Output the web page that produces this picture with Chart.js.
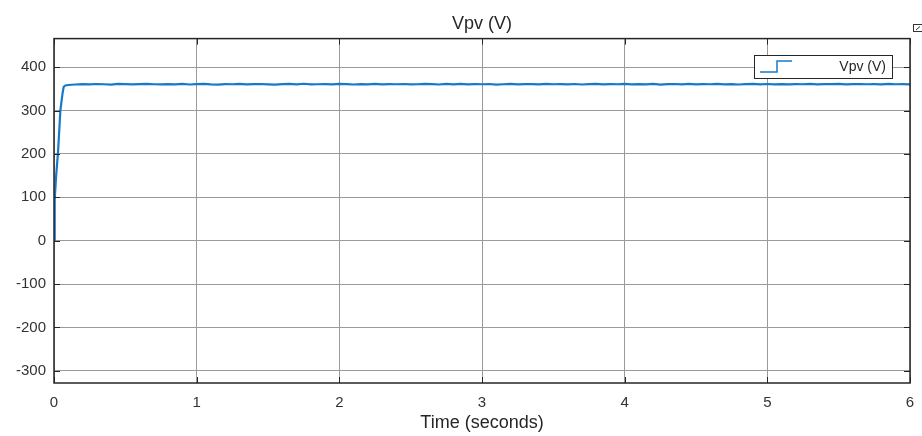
<!DOCTYPE html>
<html>
<head>
<meta charset="utf-8">
<title>Vpv (V)</title>
<script src="https://cdn.jsdelivr.net/npm/chart.js@4/dist/chart.umd.min.js"></script>
<style>
  html, body { margin: 0; padding: 0; background: #fff; }
  #wrap { width: 922px; height: 436px; position: relative; }
</style>
</head>
<body>
<div id="wrap"><canvas id="vpvChart"></canvas></div>
<script>
// start-up of the PV voltage
const riseTime = [0, 0.005, 0.015, 0.028, 0.045, 0.06, 0.068, 0.08, 0.1];
const riseVpv = [0, 95, 150, 203, 302, 340, 355, 358, 359];

// steady part, one sample every 0.05 s from 0.15 s to 6 s
const steadyStart = 0.15;
const steadyStep = 0.05;
const steadyVpv = [
  360.2, 361.0, 360.5, 361.3, 360.8, 360.1, 361.5, 360.9, 360.4, 361.2,
  361.8, 360.7, 360.3, 361.1, 360.6, 361.4, 360.2, 360.9, 361.6, 360.5,
  360.0, 361.2, 360.8, 361.7, 360.4, 360.9, 361.3, 360.6, 360.1, 361.0,
  361.5, 360.7, 361.9, 360.3, 360.8, 361.2, 360.5, 361.4, 360.9, 360.2,
  361.1, 360.6, 361.6, 360.4, 361.0, 360.8, 361.3, 360.3, 360.7, 361.5,
  360.9, 360.2, 361.4, 360.6, 361.8, 360.5, 361.0, 360.7, 361.3, 360.1,
  360.8, 361.6, 360.4, 361.2, 360.9, 360.3, 361.5, 360.7, 361.1, 360.6,
  361.3, 360.2, 360.9, 361.7, 360.5, 361.0, 360.8, 361.4, 360.3, 361.2,
  360.7, 361.5, 360.1, 360.9, 361.3, 360.6, 361.8, 360.4, 361.0, 360.8,
  361.4, 360.5, 361.1, 360.2, 360.9, 361.6, 360.7, 361.3, 360.4, 361.0,
  360.6, 361.2, 360.8, 361.5, 360.3, 361.0, 360.9, 361.7, 360.5, 361.1,
  361.3, 360.7, 361.0, 360.4, 361.4, 360.8, 361.2, 360.6
];

const xTicks = [0, 1, 2, 3, 4, 5, 6];
const yTicks = [-300, -200, -100, 0, 100, 200, 300, 400];

const lineColor = "#1779c9";
const fontFamily = "'Liberation Sans', Arial, sans-serif";

const points = riseTime.map((t, i) => ({ x: t, y: riseVpv[i] }));
steadyVpv.forEach((v, i) => {
  points.push({ x: +(steadyStart + i * steadyStep).toFixed(2), y: v });
});

// box round the axes, inner tick marks, legend and the little corner icon
const framePlugin = {
  id: "frame",
  afterDraw(chart) {
    const { ctx, chartArea: a, scales } = chart;
    ctx.save();

    ctx.strokeStyle = "#262626";
    ctx.lineWidth = 1;
    ctx.beginPath();
    yTicks.forEach(v => {
      const y = Math.round(scales.y.getPixelForValue(v)) + 0.5;
      ctx.moveTo(a.left, y); ctx.lineTo(a.left + 6, y);
      ctx.moveTo(a.right, y); ctx.lineTo(a.right - 6, y);
    });
    xTicks.forEach(v => {
      const x = Math.round(scales.x.getPixelForValue(v)) + 0.5;
      ctx.moveTo(x, a.bottom); ctx.lineTo(x, a.bottom - 6);
      ctx.moveTo(x, a.top); ctx.lineTo(x, a.top + 6);
    });
    ctx.stroke();

    ctx.lineWidth = 1.5;
    ctx.strokeRect(a.left, a.top, a.right - a.left, a.bottom - a.top);

    // legend
    const lx = 754, ly = 55, lw = 138, lh = 23;
    ctx.fillStyle = "#fff";
    ctx.fillRect(lx, ly, lw, lh);
    ctx.lineWidth = 1;
    ctx.strokeStyle = "#262626";
    ctx.strokeRect(lx + 0.5, ly + 0.5, lw, lh);
    ctx.strokeStyle = lineColor;
    ctx.lineWidth = 1.5;
    ctx.beginPath();
    ctx.moveTo(760, 72); ctx.lineTo(777, 72); ctx.lineTo(777, 61); ctx.lineTo(792, 61);
    ctx.stroke();
    ctx.fillStyle = "#262626";
    ctx.font = "14px " + fontFamily;
    ctx.textAlign = "right";
    ctx.textBaseline = "middle";
    ctx.fillText("Vpv (V)", 886, 67);

    // corner icon
    ctx.strokeStyle = "#333";
    ctx.lineWidth = 1;
    ctx.strokeRect(913.5, 24.5, 9, 7);
    ctx.beginPath();
    ctx.moveTo(916, 30); ctx.lineTo(920, 26.5);
    ctx.stroke();

    ctx.restore();
  }
};

new Chart(document.getElementById("vpvChart"), {
  type: "line",
  data: {
    datasets: [{
      label: "Vpv (V)",
      data: points,
      borderColor: lineColor,
      borderWidth: 2.2,
      pointRadius: 0,
      tension: 0,
      fill: false
    }]
  },
  options: {
    responsive: true,
    maintainAspectRatio: false,
    animation: false,
    layout: { padding: { left: 0, right: 12, top: 0, bottom: 0 } },
    plugins: {
      legend: { display: false },
      tooltip: { enabled: false },
      title: {
        display: true,
        fullSize: false,
        text: "Vpv (V)",
        color: "#262626",
        font: { family: fontFamily, size: 18, weight: "normal" },
        padding: { top: 13, bottom: 4 }
      }
    },
    scales: {
      x: {
        type: "linear",
        min: 0,
        max: 6,
        afterBuildTicks: scale => { scale.ticks = xTicks.map(v => ({ value: v })); },
        afterFit: scale => {
          scale.height = 53;
          scale.paddingLeft = 0;
          scale.paddingRight = 0;
        },
        grid: { color: "#9a9a9a", lineWidth: 1, drawTicks: false },
        border: { display: false },
        ticks: {
          color: "#333",
          padding: 11,
          maxRotation: 0,
          font: { family: fontFamily, size: 15 }
        },
        title: {
          display: true,
          text: "Time (seconds)",
          color: "#262626",
          font: { family: fontFamily, size: 18 },
          padding: { top: 0, bottom: 2 }
        }
      },
      y: {
        type: "linear",
        min: -328,
        max: 466,
        afterBuildTicks: scale => { scale.ticks = yTicks.map(v => ({ value: v })); },
        afterFit: scale => { scale.width = 54; },
        grid: { color: "#9a9a9a", lineWidth: 1, drawTicks: false },
        border: { display: false },
        ticks: {
          color: "#333",
          padding: 8,
          font: { family: fontFamily, size: 15 }
        }
      }
    }
  },
  plugins: [framePlugin]
});
</script>
</body>
</html>
